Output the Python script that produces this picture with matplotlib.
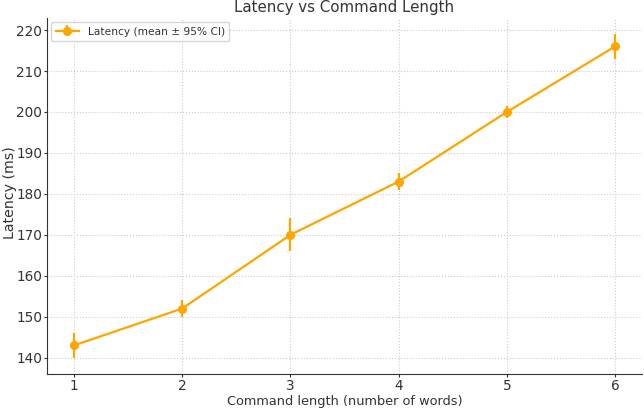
import matplotlib
matplotlib.use("Agg")
import matplotlib.pyplot as plt

words = [1, 2, 3, 4, 5, 6]
latency = [143, 152, 170, 183, 200, 216]
ci = [3, 2, 4, 2, 1.5, 3]

txt = '#333333'
plt.rcParams['text.color'] = txt
plt.rcParams['axes.labelcolor'] = txt
plt.rcParams['xtick.color'] = txt
plt.rcParams['ytick.color'] = txt

fig, ax = plt.subplots(figsize=(6.44, 4.09), dpi=100)
ax.errorbar(words, latency, yerr=ci, fmt='-o', color='#FFA500', ecolor='#FFA500',
            markersize=5.5, linewidth=1.6, elinewidth=1.6, label='Latency (mean ± 95% CI)')
ax.set_title('Latency vs Command Length', fontsize=10.8, pad=4)
ax.set_xlabel('Command length (number of words)', fontsize=9.3, labelpad=1.5)
ax.set_ylabel('Latency (ms)', fontsize=10.2, labelpad=1)
ax.yaxis.set_label_coords(-0.05, 0.51)
ax.tick_params(axis='both', labelsize=9.8, length=2.5, pad=1)
ax.grid(True, linestyle=':', color='#cccccc', linewidth=0.8)
ax.spines['top'].set_visible(False)
ax.spines['right'].set_visible(False)
for s in ('left', 'bottom'):
    ax.spines[s].set_color(txt)
ax.legend(loc='upper left', fontsize=7.7, handlelength=2.2, borderaxespad=0.4)
fig.subplots_adjust(left=0.073, right=0.997, top=0.956, bottom=0.086)
fig.savefig('out.png', dpi=100)
